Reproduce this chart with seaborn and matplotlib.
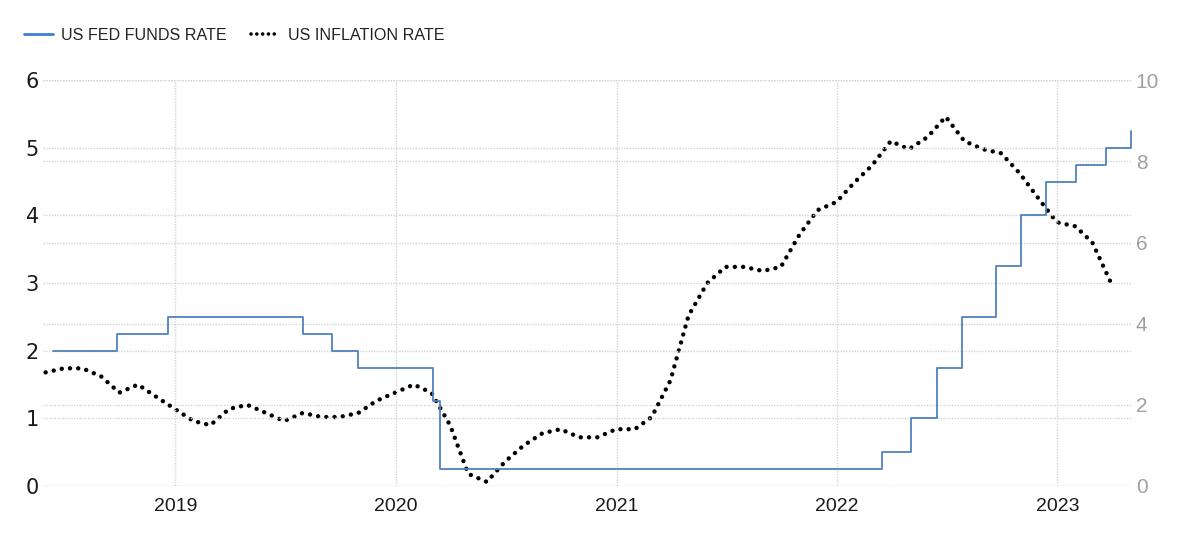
import numpy as np
import pandas as pd
import matplotlib
matplotlib.use("Agg")
import matplotlib.pyplot as plt
import matplotlib.dates as mdates
from matplotlib.lines import Line2D
import seaborn as sns

# ---- data ----
fed_dates = ["2018-06-13", "2018-09-26", "2018-12-19", "2019-07-31", "2019-09-18",
             "2019-10-30", "2020-03-03", "2020-03-15", "2022-03-16", "2022-05-04",
             "2022-06-15", "2022-07-27", "2022-09-21", "2022-11-02", "2022-12-14",
             "2023-02-01", "2023-03-22", "2023-05-03"]
fed_rate = [2.00, 2.25, 2.50, 2.25, 2.00, 1.75, 1.25, 0.25, 0.50, 1.00,
            1.75, 2.50, 3.25, 4.00, 4.50, 4.75, 5.00, 5.25]

cpi_months = pd.date_range("2018-05-31", "2023-03-31", freq="ME")
cpi_rate = [2.8, 2.9, 2.9, 2.7, 2.3, 2.5, 2.2, 1.9,
            1.6, 1.5, 1.9, 2.0, 1.8, 1.6, 1.8, 1.7, 1.7, 1.8, 2.1, 2.3,
            2.5, 2.3, 1.5, 0.3, 0.1, 0.6, 1.0, 1.3, 1.4, 1.2, 1.2, 1.4,
            1.4, 1.7, 2.6, 4.2, 5.0, 5.4, 5.4, 5.3, 5.4, 6.2, 6.8, 7.0,
            7.5, 7.9, 8.5, 8.3, 8.6, 9.1, 8.5, 8.3, 8.2, 7.7, 7.1, 6.5,
            6.4, 6.0, 5.0]

left_ticks = [0, 1, 2, 3, 4, 5, 6]
right_ticks = [0, 2, 4, 6, 8, 10]
year_ticks = ["2019", "2020", "2021", "2022", "2023"]
series_names = ["US FED FUNDS RATE", "US INFLATION RATE"]

fed_df = pd.DataFrame({"date": pd.to_datetime(fed_dates), "rate": fed_rate})
cpi_df = pd.DataFrame({"date": cpi_months, "rate": cpi_rate})

# ---- style ----
sns.set_style("white")
plt.rcParams["font.family"] = ["Liberation Sans", "DejaVu Sans"]

FED_COLOR = "#4f81bd"
GRID_COLOR = "#d4d4d4"

fig = plt.figure(figsize=(12, 5.35), dpi=100)
ax = fig.add_axes([0.036, 0.0916, 0.907, 0.7584])
ax2 = ax.twinx()

sns.lineplot(data=fed_df, x="date", y="rate", ax=ax, color=FED_COLOR,
             linewidth=1.3, drawstyle="steps-post", zorder=3)
sns.lineplot(data=cpi_df, x="date", y="rate", ax=ax2, color="black",
             linewidth=3.2, linestyle=(0, (0.01, 1.85)), dash_capstyle="round",
             zorder=4)

ax.set_xlim(pd.Timestamp("2018-05-27"), pd.Timestamp("2023-05-04"))
ax.set_ylim(0, 6)
ax2.set_ylim(0, 10)

ax.set_yticks(left_ticks)
ax.set_yticklabels([str(t) for t in left_ticks], fontsize=15, color="#1a1a1a",
                   family=["DejaVu Sans"])
ax2.set_yticks(right_ticks)
ax2.set_yticklabels([str(t) for t in right_ticks], fontsize=15, color="#a0a0a0")

ax.set_xticks([pd.Timestamp(f"{y}-01-01") for y in year_ticks])
ax.set_xticklabels(year_ticks, fontsize=14, color="#1a1a1a",
                   family=["Liberation Sans Narrow", "Liberation Sans", "DejaVu Sans"])

for a in (ax, ax2):
    a.set_xlabel("")
    a.set_ylabel("")
    for s in a.spines.values():
        s.set_visible(False)
    a.tick_params(axis="both", length=0)

ax.tick_params(axis="y", pad=3)
ax.tick_params(axis="x", pad=9)
ax2.tick_params(axis="y", pad=3)

# gridlines: left ticks, right ticks and years, all dotted light grey
ax.grid(True, axis="both", color=GRID_COLOR, linestyle=(0, (1, 1)), linewidth=1.0)
ax2.grid(True, axis="y", color=GRID_COLOR, linestyle=(0, (1, 1)), linewidth=1.0)
ax.set_axisbelow(True)
ax2.set_axisbelow(True)
ax.set_zorder(ax2.get_zorder() + 1)
ax.patch.set_visible(False)

handles = [Line2D([], [], color="#3a7fd5", linewidth=2.0),
           Line2D([], [], color="black", linewidth=2.6, linestyle=(0, (0.01, 1.6)),
                  dash_capstyle="round")]
fig.legend(handles, series_names, loc="upper left", bbox_to_anchor=(0.008, 0.975),
           ncol=2, frameon=False, fontsize=11.6, handlelength=1.8,
           columnspacing=1.5, handletextpad=0.5,
           labelcolor="#222222")

fig.savefig("out.png", dpi=100)
